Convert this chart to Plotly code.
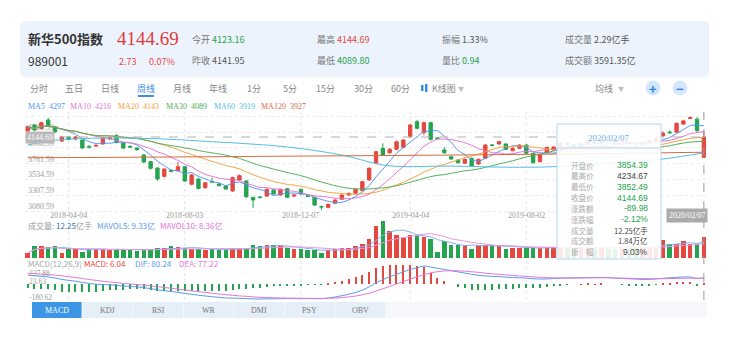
import plotly.graph_objects as go
import numpy as np
import pandas as pd

W, H = 729, 344

# ---------------- data ----------------
idx = list(range(100))
opens = [4231, 4316, 4268, 4388, 4292, 4087, 4145, 4116, 4102, 4010,
         4015, 4045, 4116, 4164, 4059, 4010, 3987, 3887, 3792, 3701,
         3582, 3665, 3663, 3720, 3468, 3544, 3420, 3506, 3473, 3444,
         3373, 3530, 3516, 3282, 3287, 3301, 3387, 3315, 3405, 3301,
         3397, 3305, 3282, 3150, 3139, 3197, 3254, 3315, 3339, 3377,
         3530, 3769, 3983, 3920, 3969, 3997, 4149, 4363, 4206, 4349,
         4130, 3959, 3863, 3816, 3769, 3840, 3759, 3840, 4030, 4045,
         4045, 3949, 3983, 4030, 3912, 3792, 3920, 3959, 4002, 4060,
         4035, 4000, 4050, 4085, 4060, 4100, 4080, 4040, 4065, 4050,
         4040, 4060, 4095, 4160, 4215, 4215, 4330, 4410, 4400, 3854.39]
closes = [4292, 4245, 4349, 4306, 4220, 4145, 4109, 4145, 3987, 4000,
          4025, 4130, 4135, 4064, 3987, 4000, 3963, 3787, 3697, 3544,
          3687, 3655, 3720, 3516, 3601, 3411, 3491, 3500, 3448, 3401,
          3563, 3591, 3291, 3244, 3280, 3397, 3330, 3397, 3282, 3315,
          3330, 3298, 3172, 3145, 3182, 3244, 3315, 3339, 3397, 3506,
          3697, 3934, 3887, 3969, 4077, 4102, 4316, 4269, 4349, 4112,
          4125, 3920, 3830, 3777, 3826, 3730, 3826, 4030, 4025, 4077,
          3969, 3983, 4030, 3912, 3777, 3887, 3997, 4002, 4060, 4035,
          4000, 4050, 4085, 4060, 4100, 4080, 4040, 4065, 4050, 4040,
          4060, 4095, 4130, 4200, 4205, 4340, 4375, 4420, 4234.67, 4144.69]
highs = [4310, 4330, 4365, 4420, 4300, 4160, 4155, 4160, 4110, 4030,
         4040, 4140, 4150, 4185, 4065, 4025, 3995, 3900, 3800, 3710,
         3695, 3680, 3790, 3730, 3615, 3555, 3500, 3563, 3480, 3450,
         3580, 3610, 3525, 3290, 3300, 3410, 3395, 3405, 3415, 3325,
         3405, 3315, 3290, 3165, 3190, 3255, 3325, 3350, 3405, 3515,
         3710, 3945, 4054, 3985, 4090, 4115, 4330, 4390, 4365, 4365,
         4140, 4000, 3875, 3825, 3835, 3850, 3835, 4045, 4045, 4090,
         4055, 3995, 4040, 4040, 3920, 3895, 4005, 4010, 4075, 4070,
         4045, 4060, 4095, 4095, 4110, 4110, 4090, 4075, 4075, 4060,
         4070, 4105, 4140, 4225, 4240, 4352, 4390, 4442, 4430, 4234.67]
lows = [4215, 4230, 4255, 4290, 4200, 4070, 4095, 4100, 3975, 3980,
        4000, 4035, 4105, 4055, 3975, 3985, 3950, 3770, 3680, 3520,
        3565, 3640, 3650, 3500, 3455, 3395, 3405, 3490, 3440, 3390,
        3360, 3515, 3270, 3129, 3265, 3290, 3320, 3305, 3270, 3290,
        3320, 3285, 3160, 3101, 3125, 3185, 3245, 3305, 3330, 3370,
        3520, 3755, 3875, 3905, 3955, 3985, 4135, 4255, 4170, 4095,
        4115, 3905, 3820, 3765, 3760, 3720, 3750, 3830, 4010, 4035,
        3960, 3940, 3975, 3900, 3765, 3780, 3910, 3950, 3990, 4020,
        3990, 3990, 4040, 4050, 4050, 4070, 4030, 4030, 4040, 4030,
        4030, 4050, 4085, 4150, 4195, 4205, 4320, 4400, 4220, 3852.49]
volumes = [2.9, 7.0, 7.0, 6.4, 7.0, 2.9, 5.8, 5.2, 3.5, 5.2,
           5.2, 5.2, 4.7, 5.2, 4.7, 4.7, 4.1, 5.2, 5.2, 5.8,
           5.8, 7.0, 6.4, 5.8, 5.2, 5.2, 4.7, 5.2, 4.7, 4.7,
           5.8, 5.8, 5.8, 7.6, 7.0, 7.6, 7.6, 7.0, 5.8, 5.2,
           5.2, 4.7, 4.7, 2.9, 4.7, 5.2, 5.8, 5.8, 7.0, 8.2,
           11.1, 18.7, 21.6, 15.7, 13.4, 11.7, 13.4, 13.2, 12.25, 11.3,
           3.5, 9.7, 7.8, 7.4, 7.4, 5.4, 7.8, 7.8, 7.4, 7.4,
           5.4, 5.8, 5.8, 5.8, 5.8, 5.8, 6.4, 6.4, 6.4, 5.8,
           5.2, 5.8, 6.4, 5.8, 5.8, 5.2, 5.2, 5.8, 5.8, 6.4,
           6.4, 6.4, 7.0, 10.3, 8.3, 8.2, 9.9, 7.9, 7.9, 12.25]
dif = [117, 107, 100, 92, 80, 62, 50, 40, 25, 12,
       2, -2, -5, -12, -20, -25, -30, -40, -52, -68,
       -78, -88, -98, -112, -122, -134, -143, -152, -160, -168,
       -170, -172, -176, -179, -180.62, -179, -178, -176, -175, -176,
       -176, -175, -176, -177, -168, -156, -140, -122, -100, -70,
       -30, 20, 60, 95, 125, 155, 185, 205, 227.88, 215,
       200, 185, 170, 155, 140, 125, 112, 105, 100, 96,
       90, 85, 82, 78, 70, 66, 68, 72, 76, 79,
       80, 82, 84, 84, 85, 83, 78, 74, 70, 66,
       62, 62, 68, 76, 82, 88, 92, 90, 72, 80.24]
dea = [138, 134, 128, 122, 115, 106, 95, 85, 73, 61,
       50, 39, 30, 22, 13, 5, -2, -10, -18, -28,
       -38, -48, -58, -69, -80, -90, -100, -110, -119, -127,
       -135, -142, -148, -154, -159, -163, -166, -168, -170, -171,
       -172, -173, -173, -174, -172, -169, -163, -155, -144, -129,
       -109, -83, -54, -24, 6, 36, 66, 94, 120, 143,
       158, 166, 170, 168, 164, 157, 149, 140, 132, 125,
       118, 111, 105, 99, 93, 88, 84, 81, 80, 80,
       80, 80, 81, 82, 82, 83, 78, 77, 76, 74,
       72, 70, 70, 71, 72, 74, 76, 77, 76.5, 77.22]
ma60_idx = [0, 3, 8, 13, 20, 27, 31, 38, 46, 52, 56, 60, 64, 68, 72, 77, 85, 93, 99]
ma60_val = [4030, 4087, 4123, 4130, 4116, 4077, 4055, 4002, 3887, 3744, 3720, 3729, 3725, 3716, 3712, 3720, 3770, 3830, 3919]
ma120_idx = [0, 15, 30, 45, 60, 75, 90, 99]
ma120_val = [3848, 3855, 3865, 3875, 3885, 3898, 3915, 3927]

date_tick_idx = [6, 23, 40, 56, 73]
date_tick_text = ["2018-04-04", "2018-08-03", "2018-12-07", "2019-04-04", "2019-08-02"]
price_ticks = [3080.59, 3307.59, 3534.59, 3761.59, 3988.59, 4215.59, 4442.59]
macd_ticks = [227.88, 23.63, -180.62]
ma_legend = [("MA5", "4297"), ("MA10", "4216"), ("MA20", "4143"),
             ("MA30", "4089"), ("MA60", "3919"), ("MA120", "3927")]

# ---------------- styles ----------------
RED = "#e5483f"
GREEN = "#24a44e"
MA_COLORS = ["#4f93ee", "#e372d6", "#f2a23c", "#4cae57", "#52bde6", "#d8693f"]
FONT = "Noto Sans CJK SC"
NARROW = "Liberation Sans Narrow"
GRAY = "#9a9a9a"

def px(x):
    return x / W

def py(y):
    return 1 - y / H

# derived series
cser = pd.Series(closes, dtype=float)
ma5 = cser.rolling(5, min_periods=1).mean()
ma10 = cser.rolling(10, min_periods=1).mean()
ma20 = cser.rolling(20, min_periods=1).mean()
ma30 = cser.rolling(30, min_periods=1).mean()
vser = pd.Series(volumes, dtype=float)
mavol5 = vser.rolling(5, min_periods=1).mean()
mavol10 = vser.rolling(10, min_periods=1).mean()
up = [c >= o for o, c in zip(opens, closes)]
vol_colors = [RED if u else GREEN for u in up]
hist = [2 * (a - b) for a, b in zip(dif, dea)]
hist_colors = [RED if h >= 0 else GREEN for h in hist]

fig = go.Figure()

fig.add_trace(go.Candlestick(
    x=idx, open=opens, high=highs, low=lows, close=closes,
    increasing=dict(line=dict(color=RED, width=1), fillcolor=RED),
    decreasing=dict(line=dict(color=GREEN, width=1), fillcolor=GREEN),
    whiskerwidth=0, xaxis="x", yaxis="y", hoverinfo="skip", showlegend=False))

for series, col in zip([ma5, ma10, ma20, ma30], MA_COLORS[:4]):
    fig.add_trace(go.Scatter(x=idx, y=series, mode="lines",
                             line=dict(color=col, width=1, shape="spline", smoothing=0.6),
                             xaxis="x", yaxis="y", hoverinfo="skip", showlegend=False))
fig.add_trace(go.Scatter(x=ma60_idx, y=ma60_val, mode="lines", line=dict(color=MA_COLORS[4], width=1, shape="spline"),
                         xaxis="x", yaxis="y", hoverinfo="skip", showlegend=False))
fig.add_trace(go.Scatter(x=ma120_idx, y=ma120_val, mode="lines", line=dict(color=MA_COLORS[5], width=1, shape="spline"),
                         xaxis="x", yaxis="y", hoverinfo="skip", showlegend=False))

fig.add_trace(go.Bar(x=idx, y=volumes, marker=dict(color=vol_colors, line=dict(width=0)), width=0.66,
                     xaxis="x2", yaxis="y2", hoverinfo="skip", showlegend=False))
fig.add_trace(go.Scatter(x=idx, y=mavol5, mode="lines", line=dict(color="#7fb2ee", width=1),
                         xaxis="x2", yaxis="y2", hoverinfo="skip", showlegend=False))
fig.add_trace(go.Scatter(x=idx, y=mavol10, mode="lines", line=dict(color="#ea98e0", width=1),
                         xaxis="x2", yaxis="y2", hoverinfo="skip", showlegend=False))

fig.add_trace(go.Bar(x=idx, y=hist, marker=dict(color=hist_colors, line=dict(width=0)), width=0.16,
                     xaxis="x3", yaxis="y3", hoverinfo="skip", showlegend=False))
fig.add_trace(go.Scatter(x=idx, y=dif, mode="lines", line=dict(color="#5a9be8", width=1, shape="spline"),
                         xaxis="x3", yaxis="y3", hoverinfo="skip", showlegend=False))
fig.add_trace(go.Scatter(x=idx, y=dea, mode="lines", line=dict(color="#e477d8", width=1, shape="spline"),
                         xaxis="x3", yaxis="y3", hoverinfo="skip", showlegend=False))

XR = [-0.395, 99.31]
XD = [px(25), px(706)]
ax_common = dict(range=XR, domain=XD, showgrid=False, zeroline=False, showticklabels=False,
                 showline=False, ticks="", fixedrange=True)

fig.update_layout(
    width=W, height=H, margin=dict(l=0, r=0, t=0, b=0),
    paper_bgcolor="white", plot_bgcolor="rgba(0,0,0,0)",
    font=dict(family=FONT, size=9, color="#333"),
    bargap=0, showlegend=False,
    xaxis=dict(**ax_common, anchor="y", rangeslider=dict(visible=False)),
    xaxis2=dict(**ax_common, anchor="y2"),
    xaxis3=dict(**ax_common, anchor="y3"),
    yaxis=dict(domain=[py(213), py(112)], range=[3057.9, 4502.2], anchor="x", fixedrange=True,
               zeroline=False, showline=False, ticks="",
               tickvals=price_ticks, ticktext=[f"{v:.2f}" for v in price_ticks],
               ticklabelposition="inside", ticklabelshift=-5, layer="below traces",
               tickfont=dict(size=8, color=GRAY, family=NARROW),
               showgrid=True, gridcolor="#ececec", griddash="dot", gridwidth=1),
    yaxis2=dict(domain=[py(258), py(219)], range=[0, 22.74], showgrid=False, zeroline=False,
                showticklabels=False, anchor="x2", fixedrange=True),
    yaxis3=dict(domain=[py(301), py(264)], range=[-205.4, 252.64], showgrid=False, zeroline=False,
                showticklabels=False, anchor="x3", fixedrange=True),
)

shapes = []
ann = []

def txt(x, y, text, size=9, color="#333", xanchor="left", family=FONT, **kw):
    ann.append(dict(x=px(x), y=py(y), xref="paper", yref="paper", text=text, showarrow=False,
                    xanchor=xanchor, yanchor="middle", font=dict(size=size, color=color, family=family), **kw))

def rrect(x0, y0, x1, y1, r, fill):
    X0, X1 = px(x0), px(x1)
    Y0, Y1 = py(y0), py(y1)
    rx, ry = r / W, r / H
    path = (f"M {X0+rx},{Y0} L {X1-rx},{Y0} Q {X1},{Y0} {X1},{Y0-ry} L {X1},{Y1+ry} "
            f"Q {X1},{Y1} {X1-rx},{Y1} L {X0+rx},{Y1} Q {X0},{Y1} {X0},{Y1+ry} L {X0},{Y0-ry} Q {X0},{Y0} {X0+rx},{Y0} Z")
    shapes.append(dict(type="path", path=path, xref="paper", yref="paper", fillcolor=fill,
                       line=dict(width=0), layer="below"))

# header
rrect(20, 21, 709, 77, 5, "#edf3fc")
txt(26, 39, "<b>新华500指数</b>", 13, "#333")
txt(115, 39, "4144.69", 19, "#e03b3b", family="Liberation Serif")
hdr1 = [(190, "今开", "4123.16", GREEN), (315, "最高", "4144.69", RED), (440, "振幅", "1.33%", "#555"),
        (563, "成交量", "2.29亿手", "#555")]
hdr2 = [(190, "昨收", "4141.95", "#555"), (315, "最低", "4089.80", GREEN), (440, "量比", "0.94", GREEN),
        (563, "成交额", "3591.35亿", "#555")]
for x, lab, val, col in hdr1:
    txt(x, 40, f"{lab} <span style='color:{col}'>{val}</span>", 9, "#777")
for x, lab, val, col in hdr2:
    txt(x, 61, f"{lab} <span style='color:{col}'>{val}</span>", 9, "#777")
txt(26, 61, "989001", 12, "#333")
txt(117, 62, "2.73", 9, RED)
txt(147, 62, "0.07%", 9, RED)

# toolbar
tabs = [(28, "分时"), (63, "五日"), (99, "日线"), (135, "周线"), (171, "月线"), (207, "年线"),
        (245, "1分"), (281, "5分"), (314, "15分"), (352, "30分"), (389, "60分")]
for x, t in tabs:
    txt(x, 88, t, 9, "#3b8fe3" if t == "周线" else "#888")
shapes.append(dict(type="rect", xref="paper", yref="paper", x0=px(138), x1=px(154), y0=py(97), y1=py(95),
                   fillcolor="#3b8fe3", line=dict(width=0)))
shapes.append(dict(type="rect", xref="paper", yref="paper", x0=px(421), x1=px(423.5), y0=py(91), y1=py(85),
                   fillcolor="#3b8fe3", line=dict(width=0)))
shapes.append(dict(type="rect", xref="paper", yref="paper", x0=px(425), x1=px(427.5), y0=py(92), y1=py(84),
                   fillcolor="#3b8fe3", line=dict(width=0)))
txt(430, 88, "K线图", 9, "#888")
txt(456, 88, "▼", 6, "#bbb")
txt(593, 88, "均线", 9, "#888")
txt(616, 88, "▼", 6, "#bbb")
for cx, sym in [(653, "+"), (680, "−")]:
    shapes.append(dict(type="circle", xref="paper", yref="paper", x0=px(cx - 7.5), x1=px(cx + 7.5),
                       y0=py(88 + 7.5), y1=py(88 - 7.5), fillcolor="#d3e6fb", line=dict(width=0)))
    txt(cx, 88, f"<b>{sym}</b>", 13, "#2f86e6", xanchor="center")

# MA legend
xs = [26, 68, 116, 164, 212, 259]
for (name, val), col, x in zip(ma_legend, MA_COLORS, xs):
    txt(x, 106, f"{name}  {val}", 8, col, family=NARROW)

# vertical grid at date ticks
for i in date_tick_idx:
    shapes.append(dict(type="line", xref="x", yref="paper", x0=i, x1=i, y0=py(300), y1=py(112),
                       line=dict(color="#e3e3e3", width=1, dash="dot"), layer="below"))
for i, t in zip(date_tick_idx, date_tick_text):
    ann.append(dict(x=i, y=py(215), xref="x", yref="paper", text=t, showarrow=False, xanchor="center",
                    yanchor="middle", font=dict(size=8, color=GRAY, family=NARROW)))

# crosshair
shapes.append(dict(type="line", xref="x", yref="paper", x0=idx[-1], x1=idx[-1], y0=py(300), y1=py(112),
                   line=dict(color="#9a9a9a", width=1, dash="dash")))
shapes.append(dict(type="line", xref="paper", yref="y", x0=px(25), x1=px(706), y0=closes[-1], y1=closes[-1],
                   line=dict(color="#b0b0b0", width=1, dash="dash")))
ann.append(dict(x=px(25), y=closes[-1], xref="paper", yref="y", text=f"{closes[-1]:.2f}", showarrow=False,
                xanchor="left", yanchor="middle", bgcolor="#b9b9b9", borderpad=1,
                font=dict(size=8, color="white", family=NARROW)))
ann.append(dict(x=idx[-1], y=py(215), xref="x", yref="paper", text="2020/02/07", showarrow=False,
                xanchor="right", xshift=4, yanchor="middle", bgcolor="#ababab", borderpad=2,
                font=dict(size=8, color="white", family=NARROW)))

# volume legend
txt(26, 225, "成交量: <span style='color:#3a6fb8'>12.25</span>亿手", 8, "#999")
txt(95, 225, "MAVOL5: 9.33亿", 8, "#5b9bf0")
txt(158, 225, "MAVOL10: 8.36亿", 8, "#e372d6")

# macd legend and labels
txt(26, 263, "MACD(12,26,9)", 8, "#aaa")
txt(82, 263, "MACD: 6.04", 8, RED)
txt(133, 263, "DIF: 80.24", 8, "#5a9be8")
txt(177, 263, "DEA: 77.22", 8, "#e477d8")
macd_label_y = [273.5, 281.8, 297.5]
for v, yy in zip(macd_ticks, macd_label_y):
    txt(27, yy, f"{v:.2f}", 7.5, GRAY, family=NARROW)

# tooltip
shapes.append(dict(type="rect", xref="paper", yref="paper", x0=px(557), x1=px(661), y0=py(259), y1=py(124),
                   fillcolor="rgba(255,255,255,0.88)", line=dict(color="#b3d4f2", width=1)))
shapes.append(dict(type="line", xref="paper", yref="paper", x0=px(557), x1=px(661), y0=py(148), y1=py(148),
                   line=dict(color="#b3d4f2", width=1)))
txt(609, 138, "2020/02/07", 9, "#6aaee8", xanchor="center", family=NARROW)
tip_rows = [("开盘价", "3854.39", GREEN), ("最高价", "4234.67", "#444"), ("最低价", "3852.49", GREEN),
            ("收盘价", "4144.69", GREEN), ("涨跌额", "-89.98", GREEN), ("涨跌幅", "-2.12%", GREEN),
            ("成交量", "12.25亿手", "#444"), ("成交额", "1.84万亿", "#444"), ("振　幅", "9.03%", "#444")]
for k, (lab, val, col) in enumerate(tip_rows):
    yy = 165 + k * 10.84
    txt(569, yy, lab, 7.5, "#aaa")
    fam = FONT if any(ord(ch) > 127 for ch in val) else "Liberation Sans"
    txt(650, yy, val, 7.5 if fam == FONT else 8.5, col, xanchor="right", family=fam)

# indicator tabs
shapes.append(dict(type="rect", xref="paper", yref="paper", x0=px(32), x1=px(707), y0=py(318), y1=py(302),
                   fillcolor="#f6f8fb", line=dict(width=0), layer="below"))
ind_tabs = ["MACD", "KDJ", "RSI", "WR", "DMI", "PSY", "OBV"]
for k, t in enumerate(ind_tabs):
    x0 = 32 + k * 50.6
    sel = k == 0
    shapes.append(dict(type="rect", xref="paper", yref="paper", x0=px(x0), x1=px(x0 + 49.6), y0=py(318), y1=py(302),
                       fillcolor="#3d95e6" if sel else "#e6eef8", line=dict(width=0), layer="below"))
    txt(x0 + 24.8, 310, t, 8, "white" if sel else "#777", xanchor="center", family="Liberation Serif")

fig.update_layout(shapes=shapes, annotations=ann)
fig.write_html("out.html")
